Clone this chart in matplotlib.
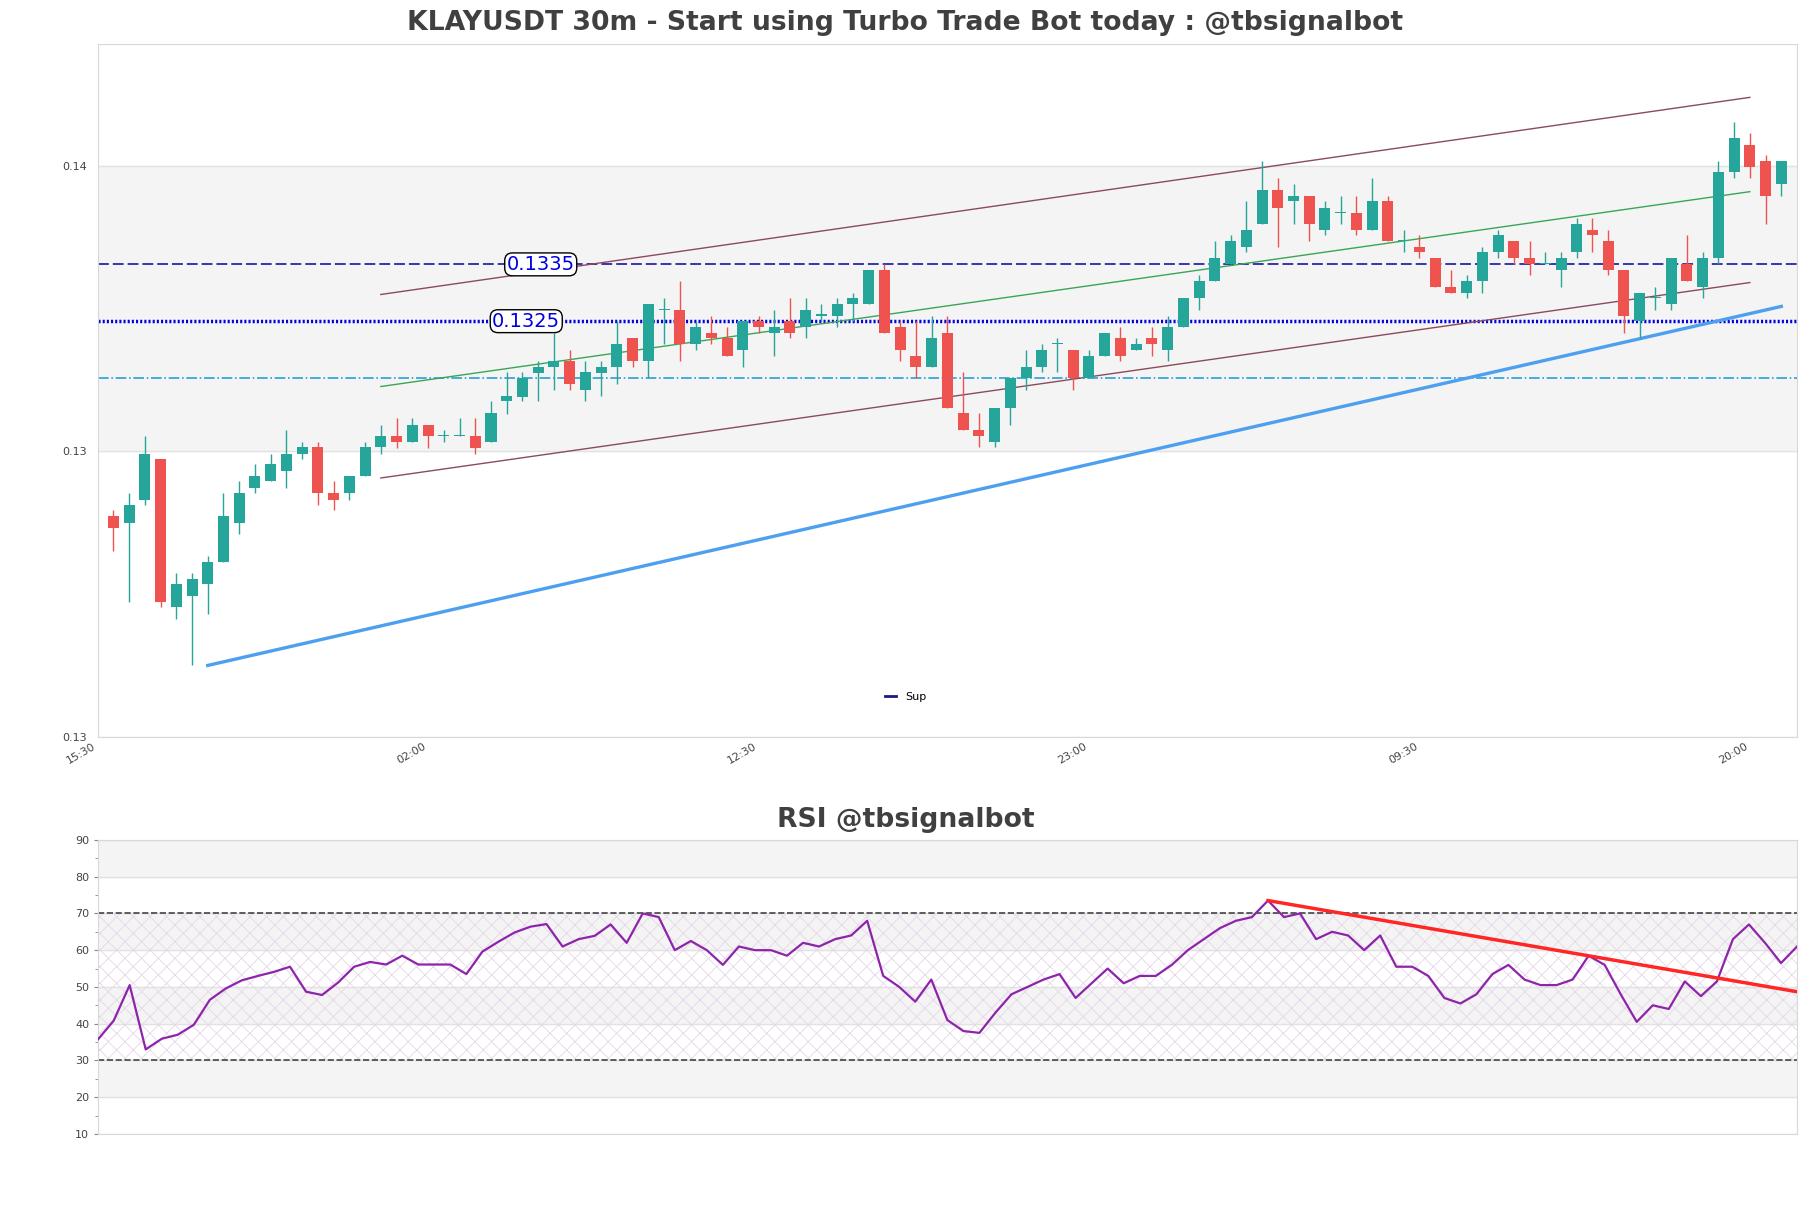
import numpy as np
import matplotlib.pyplot as plt
from matplotlib.lines import Line2D

# 30m candles, KLAYUSDT
opens = [0.12907, 0.12895, 0.12936, 0.13007, 0.12746, 0.12766, 0.12787, 0.12826, 0.12895, 0.12956,
         0.12968, 0.12987, 0.13017, 0.13028, 0.12947, 0.12947, 0.12977, 0.13028, 0.13048, 0.13038,
         0.13068, 0.13048, 0.13048, 0.13048, 0.13038, 0.13109, 0.13116, 0.13159, 0.13169, 0.13180,
         0.13129, 0.13159, 0.13169, 0.13221, 0.13180, 0.13269, 0.13270, 0.13210, 0.13230, 0.13221,
         0.13199, 0.13251, 0.13230, 0.13251, 0.13240, 0.13260, 0.13260, 0.13281, 0.13281, 0.13340,
         0.13240, 0.13189, 0.13169, 0.13230, 0.13089, 0.13059, 0.13038, 0.13098, 0.13150, 0.13169,
         0.13210, 0.13199, 0.13150, 0.13189, 0.13221, 0.13199, 0.13221, 0.13199, 0.13240, 0.13291,
         0.13321, 0.13350, 0.13380, 0.13421, 0.13481, 0.13462, 0.13471, 0.13411, 0.13441, 0.13441,
         0.13411, 0.13462, 0.13391, 0.13380, 0.13361, 0.13310, 0.13300, 0.13321, 0.13371, 0.13391,
         0.13361, 0.13350, 0.13340, 0.13371, 0.13411, 0.13391, 0.13340, 0.13251, 0.13291, 0.13281,
         0.13350, 0.13310, 0.13361, 0.13512, 0.13561, 0.13532, 0.13491]
highs = [0.12917, 0.12947, 0.13048, 0.13007, 0.12806, 0.12806, 0.12836, 0.12947, 0.12968, 0.12998,
         0.13017, 0.13059, 0.13038, 0.13038, 0.12968, 0.12977, 0.13038, 0.13068, 0.13079, 0.13079,
         0.13068, 0.13059, 0.13079, 0.13079, 0.13110, 0.13160, 0.13160, 0.13180, 0.13230, 0.13199,
         0.13180, 0.13180, 0.13251, 0.13221, 0.13281, 0.13291, 0.13321, 0.13251, 0.13260, 0.13240,
         0.13251, 0.13260, 0.13270, 0.13291, 0.13291, 0.13281, 0.13291, 0.13300, 0.13340, 0.13350,
         0.13251, 0.13251, 0.13260, 0.13260, 0.13160, 0.13089, 0.13098, 0.13150, 0.13199, 0.13210,
         0.13221, 0.13199, 0.13199, 0.13230, 0.13240, 0.13221, 0.13240, 0.13260, 0.13291, 0.13331,
         0.13391, 0.13401, 0.13462, 0.13532, 0.13502, 0.13491, 0.13471, 0.13462, 0.13471, 0.13471,
         0.13502, 0.13471, 0.13411, 0.13401, 0.13361, 0.13340, 0.13331, 0.13380, 0.13411, 0.13391,
         0.13391, 0.13371, 0.13371, 0.13431, 0.13431, 0.13411, 0.13340, 0.13300, 0.13310, 0.13361,
         0.13401, 0.13371, 0.13532, 0.13601, 0.13582, 0.13542, 0.13532]
lows = [0.12846, 0.12755, 0.12927, 0.12746, 0.12725, 0.12644, 0.12735, 0.12826, 0.12876, 0.12947,
        0.12968, 0.12956, 0.13007, 0.12927, 0.12917, 0.12936, 0.12977, 0.13017, 0.13027, 0.13038,
        0.13027, 0.13038, 0.13048, 0.13017, 0.13038, 0.13087, 0.13110, 0.13110, 0.13129, 0.13129,
        0.13110, 0.13118, 0.13139, 0.13169, 0.13150, 0.13210, 0.13180, 0.13199, 0.13210, 0.13189,
        0.13169, 0.13230, 0.13189, 0.13221, 0.13221, 0.13251, 0.13240, 0.13251, 0.13281, 0.13230,
        0.13180, 0.13150, 0.13169, 0.13098, 0.13059, 0.13028, 0.13028, 0.13068, 0.13129, 0.13160,
        0.13160, 0.13129, 0.13150, 0.13189, 0.13180, 0.13199, 0.13189, 0.13180, 0.13240, 0.13270,
        0.13321, 0.13350, 0.13371, 0.13421, 0.13380, 0.13421, 0.13391, 0.13401, 0.13421, 0.13401,
        0.13411, 0.13391, 0.13371, 0.13361, 0.13310, 0.13300, 0.13291, 0.13300, 0.13361, 0.13350,
        0.13331, 0.13350, 0.13310, 0.13361, 0.13371, 0.13331, 0.13230, 0.13221, 0.13270, 0.13270,
        0.13321, 0.13291, 0.13350, 0.13502, 0.13502, 0.13421, 0.13471]
closes = [0.12886, 0.12927, 0.13017, 0.12755, 0.12787, 0.12796, 0.12826, 0.12907, 0.12947, 0.12977,
          0.12998, 0.13017, 0.13028, 0.12947, 0.12936, 0.12977, 0.13028, 0.13048, 0.13038, 0.13068,
          0.13048, 0.13049, 0.13049, 0.13027, 0.13089, 0.13118, 0.13150, 0.13169, 0.13180, 0.13139,
          0.13160, 0.13169, 0.13210, 0.13180, 0.13281, 0.13270, 0.13210, 0.13240, 0.13221, 0.13189,
          0.13251, 0.13240, 0.13240, 0.13230, 0.13270, 0.13261, 0.13281, 0.13291, 0.13340, 0.13230,
          0.13199, 0.13169, 0.13221, 0.13098, 0.13059, 0.13048, 0.13098, 0.13150, 0.13169, 0.13199,
          0.13211, 0.13150, 0.13189, 0.13230, 0.13189, 0.13210, 0.13210, 0.13240, 0.13291, 0.13321,
          0.13361, 0.13391, 0.13411, 0.13481, 0.13450, 0.13471, 0.13421, 0.13450, 0.13442, 0.13411,
          0.13462, 0.13391, 0.13392, 0.13371, 0.13310, 0.13300, 0.13321, 0.13371, 0.13401, 0.13361,
          0.13350, 0.13351, 0.13361, 0.13421, 0.13401, 0.13340, 0.13260, 0.13300, 0.13292, 0.13361,
          0.13321, 0.13361, 0.13512, 0.13572, 0.13521, 0.13471, 0.13532]

time_labels = ['15:30', '02:00', '12:30', '23:00', '09:30', '20:00']
time_ticks = [0, 21, 42, 63, 84, 105]
price_ticks = [0.12518, 0.13021, 0.13524]

levels = [0.1335, 0.1325, 0.1315]
level_label_x = [28.16, 27.24]

# channel + support line end points (candle index, price)
chan_x = [18, 105]
chan_upper = [0.13297, 0.13644]
chan_mid = [0.13135, 0.13478]
chan_lower = [0.12974, 0.13318]
sup_x = [7, 107]
sup_y = [0.12644, 0.13276]

rsi = [35.6, 40.8, 50.5, 33.0, 35.9, 37.0, 39.7, 46.5, 49.6, 51.8, 53.0, 54.1, 55.5, 48.7, 47.8,
       51.2, 55.5, 56.8, 56.1, 58.5, 56.1, 56.1, 56.1, 53.5, 59.6, 62.3, 64.8, 66.4, 67.1, 61.0,
       63.0, 63.9, 67, 62, 70, 69, 60, 62.5, 60, 56, 61, 60, 60, 58.5, 62, 61, 63, 64, 68, 53, 50,
       46, 52, 41, 38, 37.5, 43, 48, 50, 52, 53.5, 47, 51, 55, 51, 53, 53, 56, 60, 63, 66, 68, 69,
       73.5, 69, 70, 63, 65, 64, 60, 64, 55.5, 55.5, 53, 47, 45.5, 48, 53.5, 56, 52, 50.5, 50.5,
       52, 58.5, 56, 48, 40.5, 45, 44, 51.5, 47.5, 51.5, 63, 67, 62, 56.5, 61]
rsi_trend_x = [73, 106]
rsi_trend_y = [73.5, 48.7]

GREEN = '#26a69a'
RED = '#ef5350'
TXT = '#444444'
SPINE = '#d8d8d8'

plt.rcParams['hatch.linewidth'] = 0.6

o = np.array(opens)
h = np.array(highs)
l = np.array(lows)
c = np.array(closes)
x = np.arange(1, len(o) + 1)

fig = plt.figure(figsize=(18.11, 12.08), dpi=100)
ax = fig.add_axes([0.0539, 0.3899, 0.9384, 0.5737])
ax2 = fig.add_axes([0.0539, 0.0613, 0.9384, 0.2434])

# ---- price panel ----
ax.set_xlim(0, 108)
ax.set_ylim(price_ticks[0], 0.13738)
ax.axhspan(price_ticks[1], price_ticks[2], color='#f4f4f4', zorder=0)
for t in price_ticks:
    ax.axhline(t, color='#e2e2e2', lw=1, zorder=0.5)

ax.axhline(levels[0], color='#2828a8', lw=1.3, ls=(0, (6, 2.2)), zorder=2)
ax.axhline(levels[1], color='#0000e0', lw=2.5, ls=(0, (0.6, 0.6)), zorder=2)
ax.axhline(levels[2], color='#2a9fd8', lw=1.2, ls='-.', zorder=2)

ax.plot(chan_x, chan_upper, color='#8c4a5c', lw=1, zorder=2)
ax.plot(chan_x, chan_lower, color='#8c4a5c', lw=1, zorder=2)
ax.plot(chan_x, chan_mid, color='#3aa655', lw=1, zorder=2)
ax.plot(sup_x, sup_y, color='#4da0f0', lw=2.4, zorder=2)

up = c >= o
cols = np.where(up, GREEN, RED)
ax.vlines(x, l, h, colors=cols, lw=1, zorder=3)
body = np.maximum(np.abs(c - o), 0.00002)
ax.bar(x, body, bottom=np.minimum(o, c), width=0.7, color=cols, zorder=4)

for lx, lv in zip(level_label_x, levels[:2]):
    ax.text(lx, lv, '%.4f' % lv, ha='center', va='center', fontsize=14, color='#0000dd', zorder=5,
            bbox=dict(boxstyle='round,pad=0.1,rounding_size=0.4', fc='white', ec='black', lw=1))

ax.set_xticks(time_ticks)
ax.set_xticklabels(time_labels, rotation=30, ha='right')
ax.set_yticks(price_ticks)
ax.set_yticklabels(['%.2f' % t for t in price_ticks])
ax.tick_params(axis='both', length=0, labelsize=8, colors=TXT)
ax.tick_params(axis='y', pad=8)
ax.tick_params(axis='x', pad=3)
for s in ax.spines.values():
    s.set_color(SPINE)

fig.legend(handles=[Line2D([], [], color='#1a1a80', lw=2)], labels=['Sup'], loc='center',
           bbox_to_anchor=(0.5, 0.4233), frameon=False, fontsize=8, handlelength=1)

# ---- RSI panel ----
ax2.set_xlim(0, len(rsi) - 1)
ax2.set_ylim(10, 90)
for lo in [20, 40, 60, 80]:
    ax2.axhspan(lo, lo + 10, color='#f4f4f4', zorder=0)
for t in range(10, 91, 10):
    ax2.axhline(t, color='#e2e2e2', lw=1, zorder=0.5)
ax2.fill_between([0, len(rsi) - 1], 30, 70, facecolor='none', edgecolor='#e6d6ea',
                 hatch='xx', lw=0, zorder=1)
ax2.axhline(30, color='#444444', lw=1.2, ls='--', zorder=2)
ax2.axhline(70, color='#444444', lw=1.2, ls='--', zorder=2)
ax2.plot(np.arange(len(rsi)), rsi, color='#8e24aa', lw=1.6, zorder=3)
ax2.plot(rsi_trend_x, rsi_trend_y, color='#ff2626', lw=2.5, zorder=4)

ax2.set_yticks(range(10, 91, 10))
ax2.set_yticks(range(15, 90, 10), minor=True)
ax2.set_xticks([])
ax2.tick_params(axis='y', which='both', length=3, color='#888888', labelsize=8, colors=TXT, pad=3)
ax2.tick_params(axis='y', which='minor', length=2)
for s in ax2.spines.values():
    s.set_color(SPINE)

fig.text(0.5, 1 - 23 / 1208, 'KLAYUSDT 30m - Start using Turbo Trade Bot today : @tbsignalbot',
         ha='center', va='center', fontsize=19.2, fontweight='bold', color='#404040')
fig.text(0.5, 1 - 820 / 1208, 'RSI @tbsignalbot', ha='center', va='center', fontsize=19.2,
         fontweight='bold', color='#404040')

fig.savefig('out.png', dpi=100)
